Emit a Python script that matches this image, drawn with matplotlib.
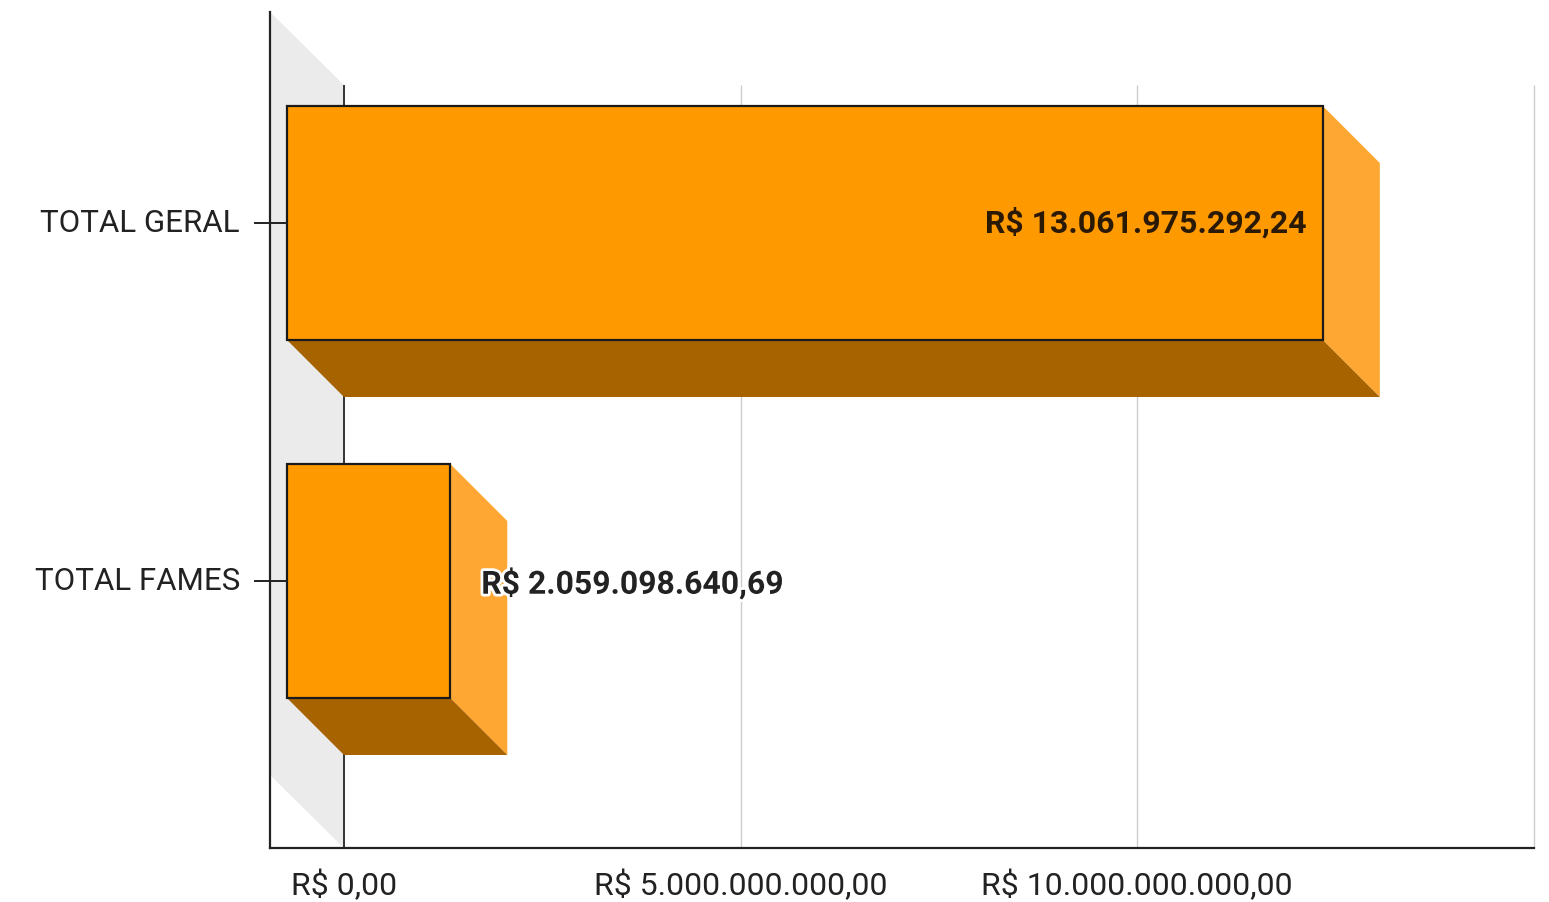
import matplotlib.pyplot as plt
import matplotlib.patches as mpatches
import matplotlib.patheffects as pe

plt.rcParams["font.family"] = ["Roboto", "DejaVu Sans"]

# ── data (values in R$ billions) ─────────────────────────────────
categories = ["TOTAL GERAL", "TOTAL FAMES"]
values = [13.06197529224, 2.05909864069]
value_labels = ["R$ 13.061.975.292,24", "R$ 2.059.098.640,69"]
tick_values = [0, 5, 10, 15]
tick_labels = ["R$ 0,00", "R$ 5.000.000.000,00", "R$ 10.000.000.000,00", ""]

FRONT = "#ff9900"
SIDE = "#ffa733"
BOTTOM = "#a66300"
WALL = "#ebebeb"
GRID = "#cccccc"

# ── layout (pixel scale of the reference) ───────────────────────
W, H = 1549, 902
PX_X = 79.3      # px per 1e9 R$
PX_Y = 358.0     # px per category step
X0_PX = 287      # front-plane zero
Y0_PX = 223      # first category centre
DEPTH = 57       # 3d depth offset, px
BAR_H = 234 / PX_Y

dx = DEPTH / PX_X
dy = DEPTH / PX_Y

fig = plt.figure(figsize=(W / 100, H / 100), dpi=100)
ax = fig.add_axes([0, 0, 1, 1])
ax.set_xlim(-X0_PX / PX_X, (W - X0_PX) / PX_X)
ax.set_ylim((H - Y0_PX) / PX_Y, -Y0_PX / PX_Y)
ax.axis("off")


def px(xp, yp):
    return (xp - X0_PX) / PX_X, (yp - Y0_PX) / PX_Y


# box extents
ax_left, grid_top = px(270, 85)
_, axis_top = px(270, 12)
_, axis_bot = px(270, 848)
wall_drop = axis_bot - px(0, 775)[1]

# ── left wall ────────────────────────────────────────────────────
ax.add_patch(mpatches.Polygon(
    [(ax_left, axis_top), (dx, grid_top), (dx, axis_bot),
     (ax_left, axis_bot - wall_drop)],
    closed=True, facecolor=WALL, edgecolor="none", zorder=1))

# ── gridlines on the back plane ─────────────────────────────────
for v in tick_values:
    ax.plot([v + dx, v + dx], [grid_top, axis_bot],
            color="#333333" if v == 0 else GRID,
            lw=1.4 if v == 0 else 1.0, zorder=2, solid_capstyle="butt")

# ── axes lines ──────────────────────────────────────────────────
ax.plot([ax_left, ax_left], [axis_top, axis_bot], color="#222222", lw=1.6, zorder=6)
ax.plot([ax_left, tick_values[-1] + dx], [axis_bot, axis_bot],
        color="#222222", lw=1.6, zorder=6)

# ── bars ────────────────────────────────────────────────────────
for i, v in enumerate(values):
    top, bot = i - BAR_H / 2, i + BAR_H / 2
    ax.add_patch(mpatches.Polygon(
        [(v, top), (v + dx, top + dy), (v + dx, bot + dy), (v, bot)],
        closed=True, facecolor=SIDE, edgecolor="none", zorder=3))
    ax.add_patch(mpatches.Polygon(
        [(0, bot), (v, bot), (v + dx, bot + dy), (dx, bot + dy)],
        closed=True, facecolor=BOTTOM, edgecolor="none", zorder=3))

ax.barh(range(len(values)), values, height=BAR_H, left=0, color=FRONT,
        edgecolor="#1a1a1a", linewidth=1.6, zorder=4)

# ── y ticks & category labels ──────────────────────────────────
for i, cat in enumerate(categories):
    ax.plot([px(255, 0)[0], 0], [i, i], color="#222222", lw=1.4, zorder=6)
    ax.text(px(240, 0)[0], i, cat, ha="right", va="center",
            fontsize=22.5, color="#222222")

# ── x tick labels ───────────────────────────────────────────────
_, lab_y = px(0, 885)
for v, lab in zip(tick_values, tick_labels):
    ax.text(v + dx, lab_y, lab, ha="center", va="center",
            fontsize=23, color="#222222")

# ── value labels ────────────────────────────────────────────────
for i, (v, lab) in enumerate(zip(values, value_labels)):
    if v > 5:
        ax.text(v - 16 / PX_X, i, lab, ha="right", va="center",
                fontsize=23, fontweight="bold", color="#2a1a05", zorder=7)
    else:
        ax.text(v + dx + (484 - 453 - DEPTH) / PX_X, i + 3 / PX_Y, lab,
                ha="left", va="center", fontsize=23, fontweight="bold",
                color="#222222", zorder=7,
                path_effects=[pe.withStroke(linewidth=4, foreground="white")])

fig.savefig("out.png", dpi=100)
